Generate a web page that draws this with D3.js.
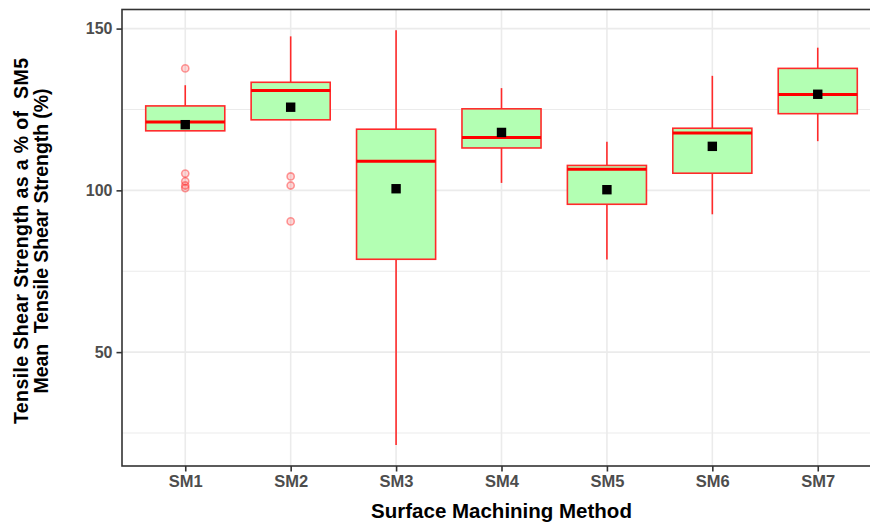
<!DOCTYPE html>
<html><head><meta charset="utf-8">
<script src="https://cdn.jsdelivr.net/npm/d3@7/dist/d3.min.js"></script>
<style>body{margin:0;background:#fff}svg{display:block}</style>
</head><body>
<svg id="c" width="870" height="525"></svg>
<script>
const categories = ["SM1","SM2","SM3","SM4","SM5","SM6","SM7"];
const lowerWhisker = [118.4, 121.8, 21.3, 102.3, 78.6, 92.6, 115.2];
const q1 = [118.4, 121.8, 78.7, 113.1, 95.7, 105.3, 123.7];
const median = [121.1, 130.9, 109.0, 116.3, 106.5, 117.7, 129.6];
const q3 = [126.1, 133.4, 118.9, 125.2, 107.7, 119.2, 137.7];
const upperWhisker = [132.5, 147.6, 149.5, 131.6, 115.0, 135.4, 144.1];
const means = [120.3, 125.7, 100.5, 117.9, 100.2, 113.6, 129.7];
const outliers = [[137.7, 105.2, 102.8, 101.5, 100.7], [104.3, 101.5, 90.4], [], [], [], [], []];
const yTicks = [50, 100, 150];
const yMinor = [25, 75, 125];

const svg = d3.select("#c");
const L = 122, R = 881, T = 9.5, B = 466;
const x = d3.scalePoint().domain(categories).range([L, R]).padding(0.6);
const y = d3.scaleLinear().domain([14.8, 155.9]).range([B, T]);
const step = x.step();
const bw = step * 0.75;
const FONT = "'Liberation Sans', Arial, sans-serif";

svg.append("rect").attr("x", L).attr("y", T).attr("width", R - L).attr("height", B - T).attr("fill", "#fff");
const g = svg.append("g");
g.selectAll(".mi").data(yMinor).join("line")
  .attr("x1", L).attr("x2", R).attr("y1", d => y(d)).attr("y2", d => y(d))
  .attr("stroke", "#ebebeb").attr("stroke-width", 1);
g.selectAll(".ma").data(yTicks).join("line")
  .attr("x1", L).attr("x2", R).attr("y1", d => y(d)).attr("y2", d => y(d))
  .attr("stroke", "#ebebeb").attr("stroke-width", 1.6);
g.selectAll(".vx").data(categories).join("line")
  .attr("x1", d => x(d)).attr("x2", d => x(d)).attr("y1", T).attr("y2", B)
  .attr("stroke", "#ebebeb").attr("stroke-width", 1.6);

const red = "#ff2a2a";
const data = categories.map((c, i) => ({c, lw: lowerWhisker[i], q1: q1[i], md: median[i], q3: q3[i], uw: upperWhisker[i], mean: means[i], out: outliers[i]}));
const bx = svg.append("g");
data.forEach(d => {
  const cx = x(d.c);
  bx.append("line").attr("x1", cx).attr("x2", cx).attr("y1", y(d.q3)).attr("y2", y(d.uw)).attr("stroke", red).attr("stroke-width", 1.6);
  bx.append("line").attr("x1", cx).attr("x2", cx).attr("y1", y(d.q1)).attr("y2", y(d.lw)).attr("stroke", red).attr("stroke-width", 1.6);
  bx.append("rect").attr("x", cx - bw / 2).attr("width", bw).attr("y", y(d.q3)).attr("height", y(d.q1) - y(d.q3))
    .attr("fill", "#b3ffb3").attr("stroke", red).attr("stroke-width", 1.6);
  bx.append("line").attr("x1", cx - bw / 2).attr("x2", cx + bw / 2).attr("y1", y(d.md)).attr("y2", y(d.md)).attr("stroke", "#ff0000").attr("stroke-width", 3);
  d.out.forEach(o => {
    bx.append("circle").attr("cx", cx).attr("cy", y(o)).attr("r", 3.6)
      .attr("fill", "rgba(255,60,60,0.2)").attr("stroke", "rgba(255,40,40,0.45)").attr("stroke-width", 1.6);
  });
  bx.append("rect").attr("x", cx - 4.7).attr("y", y(d.mean) - 4.7).attr("width", 9.4).attr("height", 9.4).attr("fill", "#000");
});

svg.append("rect").attr("x", L).attr("y", T).attr("width", R - L).attr("height", B - T)
  .attr("fill", "none").attr("stroke", "#333").attr("stroke-width", 1.6);

const ya = svg.append("g").attr("transform", `translate(${L},0)`)
  .call(d3.axisLeft(y).tickValues(yTicks).tickSize(5.5).tickPadding(4));
ya.select(".domain").remove();
ya.selectAll(".tick line").attr("stroke", "#333").attr("stroke-width", 1.6);
ya.selectAll(".tick text").attr("fill", "#4d4d4d").style("font-family", FONT)
  .style("font-weight", "bold").style("font-size", "16px");

const xa = svg.append("g").attr("transform", `translate(0,${B})`)
  .call(d3.axisBottom(x).tickSize(5.5).tickPadding(4));
xa.select(".domain").remove();
xa.selectAll(".tick line").attr("stroke", "#333").attr("stroke-width", 1.6);
xa.selectAll(".tick text").attr("fill", "#4d4d4d").style("font-family", FONT)
  .style("font-weight", "bold").style("font-size", "16.5px");

svg.append("text").attr("x", (L + R) / 2).attr("y", 518).attr("text-anchor", "middle")
  .style("font-family", FONT).style("font-weight", "bold").style("font-size", "20.5px")
  .attr("fill", "#000").text("Surface Machining Method");

const yt = svg.append("g").attr("transform", "translate(0,241) rotate(-90)");
yt.append("text").attr("x", 0).attr("y", 28).attr("text-anchor", "middle")
  .attr("textLength", 366).attr("lengthAdjust", "spacing")
  .style("font-family", FONT).style("font-weight", "bold").style("font-size", "19.5px")
  .attr("fill", "#000").style("white-space", "pre").text("Tensile Shear Strength as a % of  SM5");
yt.append("text").attr("x", 0).attr("y", 47.5).attr("text-anchor", "middle")
  .attr("textLength", 305).attr("lengthAdjust", "spacing")
  .style("font-family", FONT).style("font-weight", "bold").style("font-size", "19.5px")
  .attr("fill", "#000").style("white-space", "pre").text("Mean  Tensile Shear Strength (%)");
</script>
</body></html>
